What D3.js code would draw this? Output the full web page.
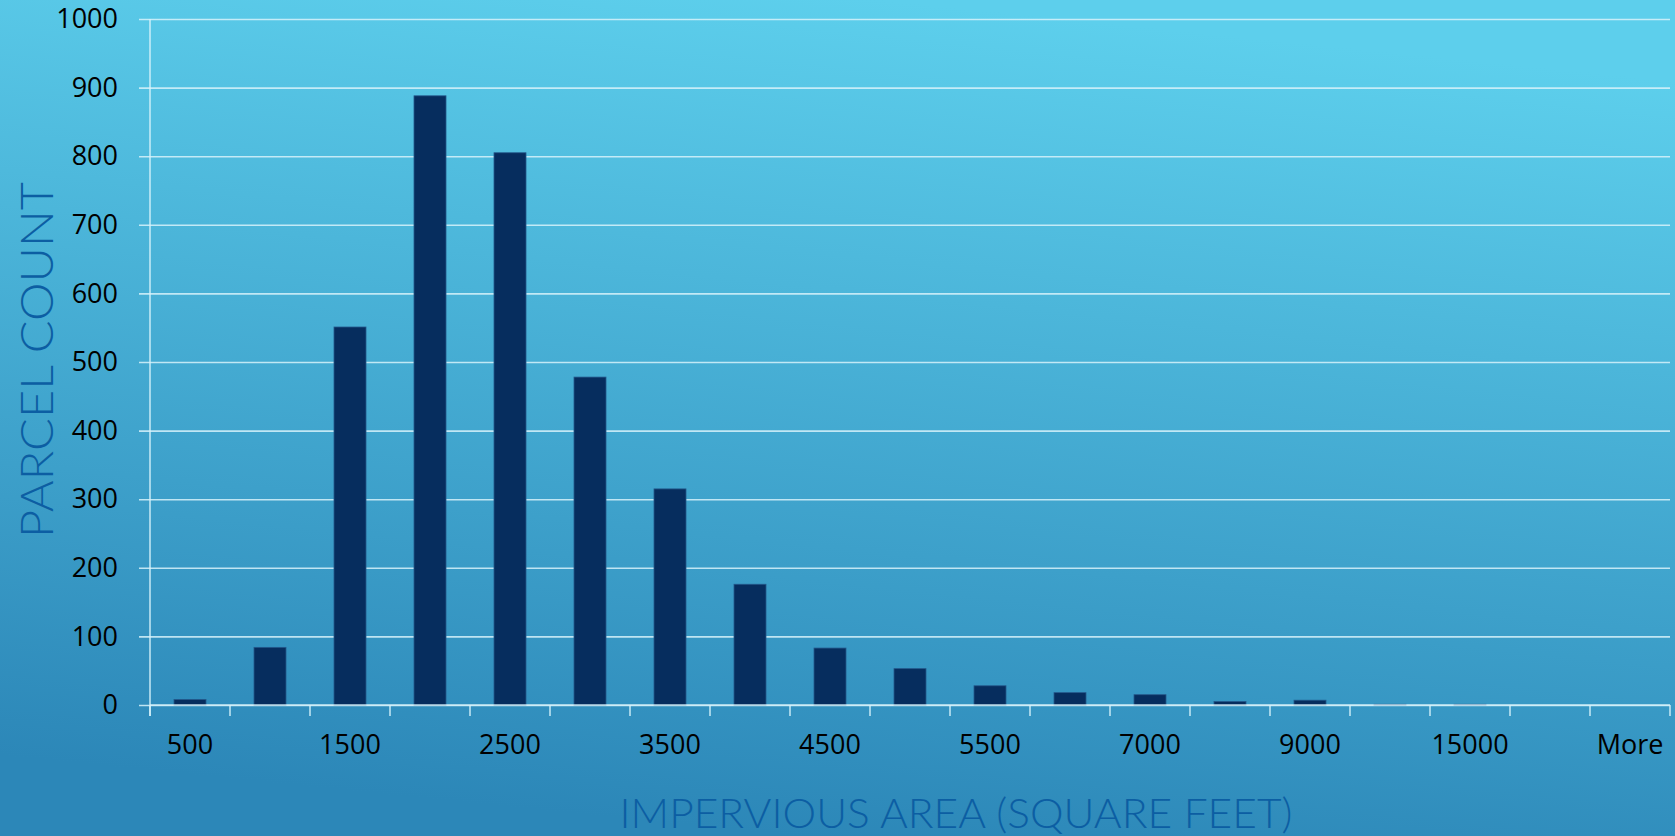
<!DOCTYPE html>
<html>
<head>
<meta charset="utf-8">
<script src="https://cdn.jsdelivr.net/npm/d3@7"></script>
<style>
  html, body { margin: 0; padding: 0; overflow: hidden; }
  .container svg { display: block; }
</style>
</head>
<body>
<div class="container"></div>
<script>
// bins (upper edge, square feet) and parcel counts
const categories = ['500', '1000', '1500', '2000', '2500', '3000', '3500', '4000', '4500', '5000',
    '5500', '6000', '7000', '8000', '9000', '10000', '15000', '20000', 'More'];
const counts = [8, 84, 551, 888, 805, 478, 315, 176, 83, 53, 28, 18, 15, 5, 7, 1, 1, 0, 0];
const yTicks = [0, 100, 200, 300, 400, 500, 600, 700, 800, 900, 1000];
const xTitle = 'IMPERVIOUS AREA (SQUARE FEET)';
const yTitle = 'PARCEL COUNT';

const width = 1675;
const height = 836;

const margin = {
    top: 19,
    right: 5,
    bottom: 131,
    left: 150
}

const innerWidth = width - margin.left - margin.right;
const innerHeight = height - margin.top - margin.bottom;

const svg = d3.select('.container')
    .append('svg')
    .attr('width', width)
    .attr('height', height);

// background gradient, light top-right to darker bottom-left
const defs = svg.append('defs');
const grad = defs.append('linearGradient')
    .attr('id', 'bg')
    .attr('gradientUnits', 'userSpaceOnUse')
    .attr('x1', 880).attr('y1', 0)
    .attr('x2', 795).attr('y2', height);
grad.append('stop').attr('offset', '0%').attr('stop-color', '#5dcfec');
grad.append('stop').attr('offset', '100%').attr('stop-color', '#2c87b8');

svg.append('rect')
    .attr('width', width)
    .attr('height', height)
    .attr('fill', 'url(#bg)');

const mainGroup = svg.append('g')
    .attr('transform', `translate(${margin.left}, ${margin.top})`);

const xScale = d3.scaleBand()
    .domain(categories)
    .range([0, innerWidth])
    .paddingInner(0.6)
    .paddingOuter(0.3);

const xBins = d3.scaleBand()
    .domain(categories)
    .range([0, innerWidth]);

const yScale = d3.scaleLinear()
    .domain([0, 1000])
    .range([innerHeight, 0]);

const lineColor = 'rgba(215, 242, 250, 0.85)';

// horizontal gridlines (stick out left of the axis like ticks)
const yAxis = d3.axisLeft(yScale)
    .tickValues(yTicks)
    .tickSize(-innerWidth - 11)
    .tickPadding(22)
    .tickFormat(d3.format('d'));

const gYAxis = mainGroup.append('g')
    .attr('class', 'yAxis')
    .attr('transform', 'translate(-11, 0)')
    .call(yAxis);

gYAxis.select('.domain').remove();
gYAxis.selectAll('line')
    .attr('stroke', lineColor)
    .attr('stroke-width', 1.6);
gYAxis.selectAll('text')
    .attr('x', -21)
    .attr('fill', '#000')
    .style('font-family', '"Open Sans", sans-serif')
    .style('font-size', '27px');

// vertical axis line
mainGroup.append('line')
    .attr('x1', 0).attr('x2', 0)
    .attr('y1', 0).attr('y2', innerHeight + 11)
    .attr('stroke', lineColor)
    .attr('stroke-width', 1.6);

// bars
mainGroup.selectAll('.bar')
    .data(counts)
    .enter()
    .append('rect')
    .attr('class', 'bar')
    .attr('x', (d, i) => xScale(categories[i]))
    .attr('y', d => yScale(d))
    .attr('width', xScale.bandwidth())
    .attr('height', d => innerHeight - yScale(d))
    .attr('fill', '#062d5e')
    .attr('stroke', d => d > 0 ? '#24578a' : 'none')
    .attr('stroke-width', 0.8);

// x axis: ticks at bin boundaries, labels on every other bin
const boundaries = categories.map(c => xBins(c)).concat([innerWidth]);
const gXAxis = mainGroup.append('g')
    .attr('class', 'xAxis')
    .attr('transform', `translate(0, ${innerHeight})`);

gXAxis.append('line')
    .attr('x1', 0).attr('x2', innerWidth)
    .attr('stroke', lineColor)
    .attr('stroke-width', 1.6);

gXAxis.selectAll('.tick')
    .data(boundaries)
    .enter()
    .append('line')
    .attr('x1', d => d).attr('x2', d => d)
    .attr('y1', 0).attr('y2', 11)
    .attr('stroke', lineColor)
    .attr('stroke-width', 1.6);

gXAxis.selectAll('.label')
    .data(categories.filter((c, i) => i % 2 === 0))
    .enter()
    .append('text')
    .attr('x', d => xBins(d) + xBins.bandwidth() / 2)
    .attr('y', 40)
    .attr('dy', '0.35em')
    .attr('text-anchor', 'middle')
    .attr('fill', '#000')
    .style('font-family', '"Open Sans", sans-serif')
    .style('font-size', '27px')
    .text(d => d);

// axis titles
svg.append('text')
    .attr('x', 956)
    .attr('y', 813)
    .attr('dy', '0.35em')
    .attr('text-anchor', 'middle')
    .attr('textLength', 673)
    .attr('lengthAdjust', 'spacingAndGlyphs')
    .attr('fill', '#0c5ea3')
    .style('font-family', 'Lato, sans-serif')
    .style('font-weight', 300)
    .style('font-size', '42px')
    .text(xTitle);

svg.append('text')
    .attr('transform', 'translate(37, 360) rotate(-90)')
    .attr('dy', '0.35em')
    .attr('text-anchor', 'middle')
    .attr('textLength', 356)
    .attr('lengthAdjust', 'spacingAndGlyphs')
    .attr('fill', '#0c5ea3')
    .style('font-family', 'Lato, sans-serif')
    .style('font-weight', 300)
    .style('font-size', '46px')
    .text(yTitle);
</script>
</body>
</html>
